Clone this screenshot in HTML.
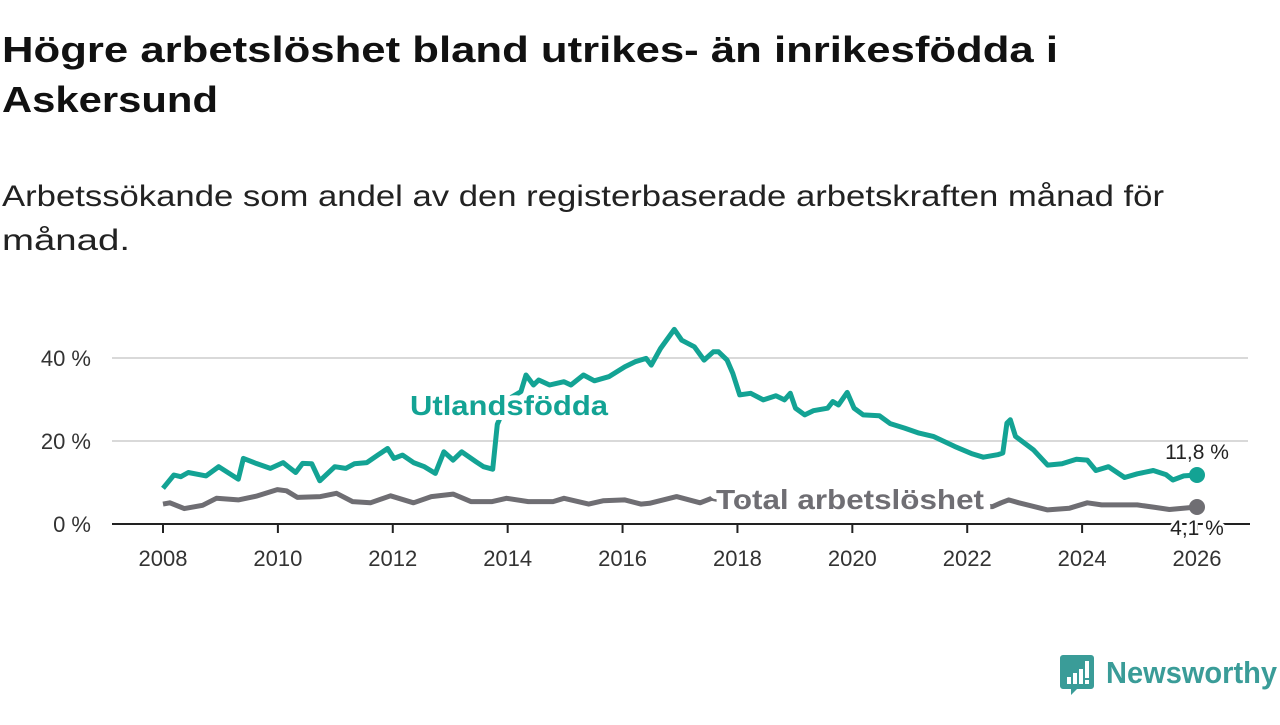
<!DOCTYPE html>
<html><head><meta charset="utf-8">
<style>
html,body{margin:0;padding:0;background:#fff;}
body{width:1280px;height:720px;overflow:hidden;font-family:"Liberation Sans",sans-serif;}
svg text{font-family:"Liberation Sans",sans-serif;}
</style></head>
<body>
<svg id="chart" width="1280" height="720" viewBox="0 0 1280 720">
  <text x="2" y="62" font-size="36" font-weight="bold" fill="#111" textLength="1056" lengthAdjust="spacingAndGlyphs">Högre arbetslöshet bland utrikes- än inrikesfödda i</text>
  <text x="2" y="112" font-size="36" font-weight="bold" fill="#111" textLength="216" lengthAdjust="spacingAndGlyphs">Askersund</text>
  <text x="2" y="206" font-size="30" fill="#222" textLength="1162" lengthAdjust="spacingAndGlyphs">Arbetssökande som andel av den registerbaserade arbetskraften månad för</text>
  <text x="2" y="250" font-size="30" fill="#222" textLength="128" lengthAdjust="spacingAndGlyphs">månad.</text>
  <g id="grid"></g>
  <g id="axes"></g>
  <g id="series"></g>
  <g id="labels"></g>
  <g>
    <path d="M1063 655 h28 a3 3 0 0 1 3 3 v28 a3 3 0 0 1 -3 3 h-14 l-6 6 v-6 h-8 a3 3 0 0 1 -3 -3 v-28 a3 3 0 0 1 3 -3z" fill="#3a9c98"/>
    <rect x="1067" y="677" width="4" height="7" fill="#fff"/>
    <rect x="1073" y="673" width="4" height="11" fill="#fff"/>
    <rect x="1079" y="669" width="4" height="15" fill="#fff"/>
    <rect x="1085" y="661" width="4" height="17" fill="#fff"/>
    <rect x="1085" y="680" width="4" height="4" fill="#fff"/>
    <text x="1106" y="683" font-size="31" font-weight="bold" fill="#3a9c98" textLength="171" lengthAdjust="spacingAndGlyphs">Newsworthy</text>
  </g>
</svg>
<script>
const yTicks = [0, 20, 40];
const yTickLabels = ["0 %", "20 %", "40 %"];
const xTicks = [2008, 2010, 2012, 2014, 2016, 2018, 2020, 2022, 2024, 2026];

const foreignDates = [2008.0,2008.19,2008.31,2008.44,2008.75,2008.97,2009.31,2009.4,2009.62,2009.87,2010.09,2010.18,2010.31,2010.43,2010.59,2010.73,2010.99,2011.18,2011.33,2011.55,2011.74,2011.91,2012.02,2012.17,2012.36,2012.55,2012.74,2012.89,2013.05,2013.2,2013.45,2013.58,2013.74,2013.82,2014.0,2014.23,2014.32,2014.45,2014.54,2014.73,2014.98,2015.1,2015.32,2015.51,2015.76,2016.04,2016.22,2016.41,2016.5,2016.66,2016.9,2017.03,2017.25,2017.42,2017.58,2017.67,2017.82,2017.92,2018.04,2018.23,2018.45,2018.67,2018.82,2018.92,2019.01,2019.17,2019.32,2019.57,2019.66,2019.76,2019.91,2020.03,2020.19,2020.47,2020.66,2020.91,2021.16,2021.41,2021.78,2022.09,2022.28,2022.53,2022.62,2022.69,2022.75,2022.84,2023.15,2023.4,2023.65,2023.9,2024.09,2024.24,2024.46,2024.74,2024.96,2025.24,2025.46,2025.58,2025.77,2026.0];
const foreignValues = [8.6,11.8,11.4,12.4,11.6,13.8,10.8,15.8,14.6,13.4,14.8,13.8,12.4,14.6,14.5,10.4,13.8,13.4,14.5,14.8,16.6,18.2,15.8,16.6,14.8,13.8,12.2,17.4,15.4,17.4,15.0,13.8,13.2,24.0,30.0,31.9,35.9,33.5,34.7,33.5,34.3,33.5,35.9,34.5,35.5,37.9,39.1,39.9,38.3,42.3,46.9,44.3,42.7,39.5,41.5,41.5,39.5,36.3,31.1,31.5,29.9,30.9,29.9,31.5,27.9,26.3,27.3,27.9,29.5,28.7,31.7,27.9,26.3,26.1,24.2,23.1,21.9,21.1,18.7,16.9,16.1,16.7,17.1,24.3,25.1,21.1,17.9,14.2,14.5,15.6,15.4,12.9,13.8,11.2,12.1,12.9,11.9,10.6,11.6,11.8];

const totalDates = [2008.0,2008.12,2008.37,2008.69,2008.93,2009.31,2009.62,2009.99,2010.15,2010.34,2010.74,2011.02,2011.3,2011.61,2011.96,2012.36,2012.67,2013.05,2013.36,2013.73,2013.98,2014.36,2014.79,2014.98,2015.41,2015.66,2016.04,2016.32,2016.47,2016.94,2017.35,2017.55,2018.0,2019.0,2020.0,2021.0,2022.0,2022.44,2022.59,2022.72,2022.9,2023.4,2023.78,2024.09,2024.34,2024.96,2025.27,2025.52,2026.0];
const totalValues = [4.8,5.1,3.7,4.5,6.2,5.8,6.7,8.3,8.0,6.4,6.6,7.4,5.4,5.1,6.8,5.1,6.6,7.2,5.4,5.4,6.2,5.4,5.4,6.2,4.8,5.6,5.8,4.8,5.0,6.6,5.1,6.2,5.0,4.6,5.5,4.8,4.2,4.2,5.1,5.8,5.1,3.4,3.8,5.1,4.6,4.6,4.0,3.5,4.1];

const NS = "http://www.w3.org/2000/svg";
const X0 = 163, X1 = 1197, YR0 = 2008, YR1 = 2026, Y0 = 524, PXPCT = 4.15;
function xScale(t){ return X0 + (t - YR0) * (X1 - X0) / (YR1 - YR0); }
function yScale(v){ return Y0 - v * PXPCT; }
function mk(tag, attrs, parent){ const e = document.createElementNS(NS, tag); for (const k in attrs) e.setAttribute(k, attrs[k]); parent.appendChild(e); return e; }

const grid = document.getElementById('grid');
const axes = document.getElementById('axes');
const series = document.getElementById('series');
const labels = document.getElementById('labels');

yTicks.forEach((v, i) => {
  if (v !== 0) {
    const g = mk('line', {x1:112, x2:1248, y1:yScale(v), y2:yScale(v), stroke:'#d9d9d9', 'stroke-width':2}, grid);
    
    
  }
  const t = mk('text', {x:91, y:yScale(v)+8, 'font-size':22, fill:'#333', 'text-anchor':'end'}, axes);
  t.textContent = yTickLabels[i];
  
  
});

const base = mk('line', {x1:112, x2:1250, y1:Y0, y2:Y0, stroke:'#222', 'stroke-width':2}, axes);


xTicks.forEach(yr => {
  const tk = mk('line', {x1:xScale(yr), x2:xScale(yr), y1:Y0, y2:Y0+9, stroke:'#222', 'stroke-width':2}, axes);
  
  
  const t = mk('text', {x:xScale(yr), y:566, 'font-size':22, fill:'#333', 'text-anchor':'middle'}, axes);
  t.textContent = String(yr);
  
  
});

function path(dates, vals){ return dates.map((d,i)=>(i?'L':'M')+xScale(d).toFixed(1)+' '+yScale(vals[i]).toFixed(1)).join(' '); }
const pt = mk('path', {d:path(totalDates,totalValues), fill:'none', stroke:'#6f6e73', 'stroke-width':5, 'stroke-linejoin':'round'}, series);


const pf = mk('path', {d:path(foreignDates,foreignValues), fill:'none', stroke:'#13a394', 'stroke-width':5, 'stroke-linejoin':'round'}, series);



const lastF = foreignValues[foreignValues.length-1], lastT = totalValues[totalValues.length-1];
const df = mk('circle', {cx:xScale(foreignDates[foreignDates.length-1]), cy:yScale(lastF), r:8, fill:'#13a394'}, series);


const dt = mk('circle', {cx:xScale(totalDates[totalDates.length-1]), cy:yScale(lastT), r:8, fill:'#6f6e73'}, series);



function fmt(v){ return v.toFixed(1).replace('.', ',') + ' %'; }
const l1 = mk('text', {x:xScale(2026), y:yScale(lastF)-16, 'font-size':21, fill:'#222', 'text-anchor':'middle', stroke:'#fff', 'stroke-width':4, 'paint-order':'stroke'}, labels);
l1.textContent = fmt(lastF);


const l2 = mk('text', {x:xScale(2026), y:yScale(lastT)+28, 'font-size':21, fill:'#222', 'text-anchor':'middle', stroke:'#fff', 'stroke-width':6, 'paint-order':'stroke'}, labels);
l2.textContent = fmt(lastT);



const s1 = mk('text', {x:410, y:415, 'font-size':28, 'font-weight':'bold', fill:'#13a394', stroke:'#fff', 'stroke-width':10, 'stroke-linejoin':'round', 'paint-order':'stroke', textLength:198, lengthAdjust:'spacingAndGlyphs'}, labels);
s1.textContent = 'Utlandsfödda';


const s2 = mk('text', {x:716, y:509, 'font-size':28, 'font-weight':'bold', fill:'#6f6e73', stroke:'#fff', 'stroke-width':12, 'stroke-linejoin':'round', 'paint-order':'stroke', textLength:268, lengthAdjust:'spacingAndGlyphs'}, labels);
s2.textContent = 'Total arbetslöshet';


</script>
</body></html>
